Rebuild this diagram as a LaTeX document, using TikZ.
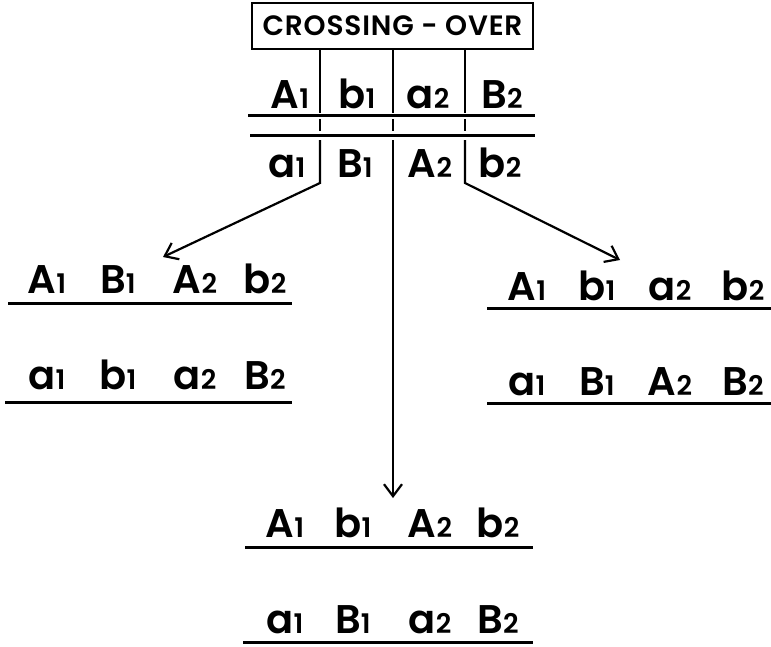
\documentclass[tikz,border=0pt]{standalone}
\usepackage{fontspec}
\setmainfont{Poppins}[BoldFont={Poppins SemiBold}]
\usetikzlibrary{arrows.meta}
\newcommand\gn[2]{#1{\fontsize{27}{27}\selectfont #2}}
\begin{document}
\begin{tikzpicture}[x=1pt,y=-1pt,
  gene/.style={font=\fontsize{40}{40}\selectfont\bfseries, inner sep=0pt, anchor=base},
  chrom/.style={line width=3pt},
  conn/.style={line width=2.2pt},
  arr/.style={conn, -{Straight Barb[length=12pt,width=18pt,line width=2.2pt]}}]
\useasboundingbox (0,0) rectangle (771,646);
% title box
\node[draw, line width=1.5pt, minimum width=281pt, minimum height=46pt, inner sep=0pt,
  font=\fontsize{28}{28}\selectfont\bfseries\addfontfeature{LetterSpace=3}] (box) at (392.5,26) {CROSSING - OVER};
% top pair
\node[gene] (tA1) at (290,108) {\gn{A}{1}};
\node[gene] (tb1) at (357,108) {\gn{b}{1}};
\node[gene] (ta2) at (428,108) {\gn{a}{2}};
\node[gene] (tB2) at (502,108) {\gn{B}{2}};
\node[gene] (ua1) at (287,177) {\gn{a}{1}};
\node[gene] (uB1) at (355,177) {\gn{B}{1}};
\node[gene] (uA2) at (430,177) {\gn{A}{2}};
\node[gene] (ub2) at (500,177) {\gn{b}{2}};
\coordinate (t1l) at (248,115); \coordinate (t1r) at (535,115);
\coordinate (t2l) at (250,135); \coordinate (t2r) at (535,135);
\draw[chrom] (t1l) -- (t1r);
\draw[chrom] (t2l) -- (t2r);
% connectors
\coordinate (c1a) at (320,113); \coordinate (c1b) at (320,119); \coordinate (c1c) at (320,131);
\coordinate (c1d) at (320,140); \coordinate (c1e) at (320,183);
\coordinate (c2a) at (393,113); \coordinate (c2b) at (393,119); \coordinate (c2c) at (393,131);
\coordinate (c2d) at (393,140);
\coordinate (c3a) at (465,113); \coordinate (c3b) at (465,119); \coordinate (c3c) at (465,131);
\coordinate (c3d) at (465,140); \coordinate (c3e) at (465,183);
\draw[conn] (box.south -| c1a) -- (c1a);
\draw[conn] (box.south -| c2a) -- (c2a);
\draw[conn] (box.south -| c3a) -- (c3a);
\draw[line width=1.5pt] (c1b) -- (c1c);
\draw[line width=1.5pt] (c2b) -- (c2c);
\draw[line width=1.5pt] (c3b) -- (c3c);
% left group
\node[gene] (lA1) at (47,293) {\gn{A}{1}};
\node[gene] (lB1) at (118,293) {\gn{B}{1}};
\node[gene] (lA2) at (195,293) {\gn{A}{2}};
\node[gene] (lb2) at (265,293) {\gn{b}{2}};
\node[gene] (la1) at (47,389) {\gn{a}{1}};
\node[gene] (lb1) at (118,389) {\gn{b}{1}};
\node[gene] (la2) at (195,389) {\gn{a}{2}};
\node[gene] (lB2) at (265,389) {\gn{B}{2}};
\draw[chrom] (8,303) -- (292,303);
\draw[chrom] (5,402) -- (292,402);
% right group
\node[gene] (rA1) at (527,300) {\gn{A}{1}};
\node[gene] (rb1) at (597,300) {\gn{b}{1}};
\node[gene] (ra2) at (670,300) {\gn{a}{2}};
\node[gene] (rb2) at (743,300) {\gn{b}{2}};
\node[gene] (ra1) at (527,395) {\gn{a}{1}};
\node[gene] (rB1) at (597,395) {\gn{B}{1}};
\node[gene] (rA2) at (670,395) {\gn{A}{2}};
\node[gene] (rB2) at (743,395) {\gn{B}{2}};
\draw[chrom] (487,308) -- (771,308);
\draw[chrom] (487,403) -- (771,403);
% bottom group
\node[gene] (bA1) at (285,537) {\gn{A}{1}};
\node[gene] (bb1) at (353,537) {\gn{b}{1}};
\node[gene] (bA2) at (430,537) {\gn{A}{2}};
\node[gene] (bb2) at (498,537) {\gn{b}{2}};
\node[gene] (ba1) at (285,633) {\gn{a}{1}};
\node[gene] (bB1) at (353,633) {\gn{B}{1}};
\node[gene] (ba2) at (430,633) {\gn{a}{2}};
\node[gene] (bB2) at (498,633) {\gn{B}{2}};
\draw[chrom] (245,547) -- (533,547);
\draw[chrom] (243,642) -- (533,642);
% arrows
\coordinate (e1) at (163,257);
\coordinate (e2) at (393,498);
\coordinate (e3) at (620,260);
\draw[arr] (c1d) -- (c1e) -- (e1);
\draw[arr] (c2d) -- (e2);
\draw[arr] (c3d) -- (c3e) -- (e3);
\end{tikzpicture}
\end{document}
